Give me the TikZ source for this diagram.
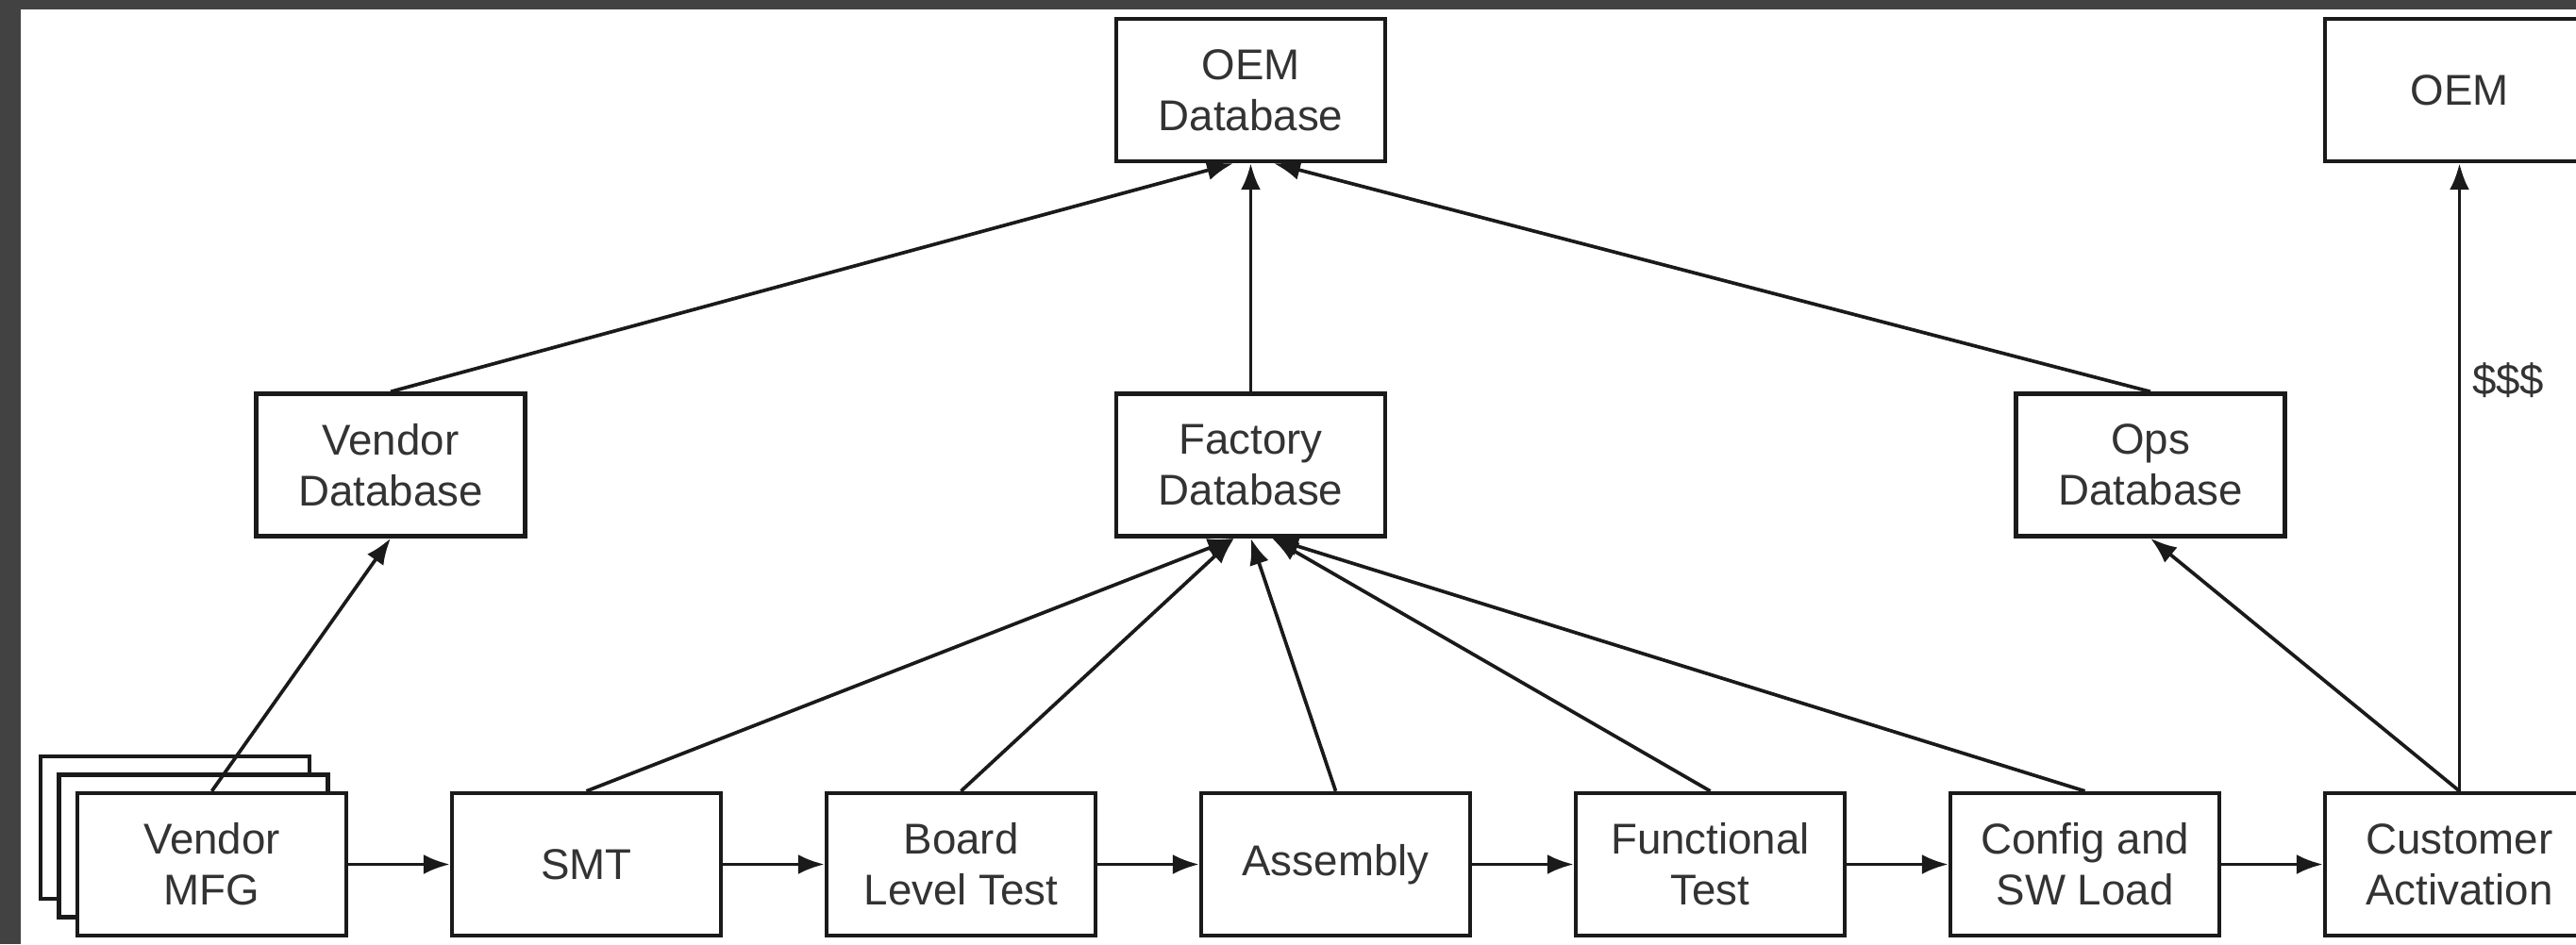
\documentclass[tikz,border=0pt]{standalone}
\usepackage{fontspec}
\setmainfont{Liberation Sans}
\usepackage{xcolor}
\usetikzlibrary{arrows.meta,shadows}
\definecolor{frame}{HTML}{424242}
\definecolor{ink}{HTML}{1A1A1A}
\definecolor{txt}{HTML}{333333}

\begin{document}
\begin{tikzpicture}[>={Latex[length=2.8mm,width=2.1mm]},node distance=3.97cm,
                    line width=1.05pt,
                    stage/.style={rectangle,draw=ink,line width=1.25pt,fill=white,
                      minimum width=2.85cm,minimum height=1.51cm,inner sep=0pt,
                      align=center,text=txt,font=\fontsize{13}{15.4}\selectfont},
                    link/.style={->,draw=ink},
                    tag/.style={text=txt,font=\fontsize{13}{15.4}\selectfont}]
  % Frame
  \fill[frame] (0,0) rectangle (27.3,10.01);
  \fill[white] (0.22,0) rectangle (27.3,9.91);
  \useasboundingbox (0,0) rectangle (27.3,10.01);

  % Nodes
  \node[stage,
        copy shadow={shadow xshift=-0.39cm,shadow yshift=0.39cm,draw=ink,line width=1.25pt,fill=white},
        copy shadow={shadow xshift=-0.195cm,shadow yshift=0.195cm,draw=ink,line width=1.25pt,fill=white}]
        (vmfg) at (2.245,0.845) {Vendor\\MFG};
  \node[stage] (smt) [right of = vmfg] {SMT};
  \node[stage] (blt) [right of = smt] {Board\\Level Test};
  \node[stage] (asm) [right of = blt] {Assembly};
  \node[stage] (ft) [right of = asm] {Functional\\Test};
  \node[stage] (cfg) [right of = ft] {Config and\\SW Load};
  \node[stage] (ca) [right of = cfg] {Customer\\Activation};

  \node[stage] (vdb) at (4.14,5.08) {Vendor\\Database};
  \node[stage] (fdb) at (13.255,5.08) {Factory\\Database};
  \node[stage] (odb) at (22.79,5.08) {Ops\\Database};
  \node[stage] (oemdb) [above of = fdb, node distance=3.975cm] {OEM\\Database};
  \node[stage] (oem) [above of = ca, node distance=8.21cm] {OEM};

  % Edges
  \draw[link] (vmfg) -- (smt);
  \draw[link] (smt) -- (blt);
  \draw[link] (blt) -- (asm);
  \draw[link] (asm) -- (ft);
  \draw[link] (ft) -- (cfg);
  \draw[link] (cfg) -- (ca);

  \draw[link] (vmfg.north) -- (vdb.south);
  \draw[link] (smt.north) -- ([xshift=-0.175cm]fdb.south);
  \draw[link] (blt.north) -- ([xshift=-0.175cm]fdb.south);
  \draw[link] (asm.north) -- (fdb.south);
  \draw[link] (ft.north) -- ([xshift=0.225cm]fdb.south);
  \draw[link] (cfg.north) -- ([xshift=0.225cm]fdb.south);
  \draw[link] (ca.north) -- (odb.south);

  \draw[link] (vdb.north) -- ([xshift=-0.185cm]oemdb.south);
  \draw[link] (fdb) -- (oemdb);
  \draw[link] (odb.north) -- ([xshift=0.245cm]oemdb.south);
  \draw[link] (ca) -- node[tag,right,pos=0.655] (cash) {\$\$\$} (oem);
\end{tikzpicture}
\end{document}
